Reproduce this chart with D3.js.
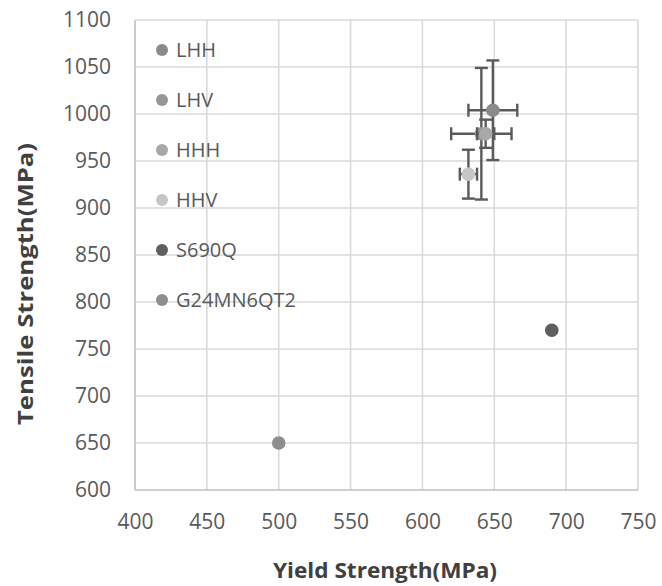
<!DOCTYPE html>
<html>
<head>
<meta charset="utf-8">
<script src="https://cdn.jsdelivr.net/npm/d3@7"></script>
<style>
  html, body { margin: 0; padding: 0; background: #ffffff; }
  svg { display: block; }
</style>
</head>
<body>
<svg id="chart" width="662" height="586"></svg>
<script>
// ---- data ----
const seriesNames   = ["LHH", "LHV", "HHH", "HHV", "S690Q", "G24MN6QT2"];
const yieldValues   = [649, 641, 644, 632, 690, 500];
const tensileValues = [1004, 979, 979, 936, 770, 650];
const yieldErrors   = [17, 21, 6, 6, 0, 0];
const tensileErrors = [53, 70, 15, 26, 0, 0];
const xTicks = [400, 450, 500, 550, 600, 650, 700, 750];
const yTicks = [600, 650, 700, 750, 800, 850, 900, 950, 1000, 1050, 1100];
const seriesColors = ["#8a8a8a", "#979797", "#a8a8a8", "#c6c6c6", "#5e5e5e", "#8e8e8e"];

// ---- layout ----
const W = 662, H = 586;
const margin = { left: 135, right: 24, top: 20, bottom: 96 };
const svg = d3.select("#chart");
const x = d3.scaleLinear().domain([400, 750]).range([margin.left, W - margin.right]);
const y = d3.scaleLinear().domain([600, 1100]).range([H - margin.bottom, margin.top]);
const FONT = "'Open Sans', 'Liberation Sans', sans-serif";

// grid
const grid = svg.append("g");
grid.selectAll("line.vx").data(xTicks).join("line")
  .attr("x1", d => x(d)).attr("x2", d => x(d))
  .attr("y1", y(1100)).attr("y2", y(600))
  .attr("stroke", d => d === 400 ? "#bfbfbf" : "#d9d9d9").attr("stroke-width", 1.6);
grid.selectAll("line.hy").data(yTicks).join("line")
  .attr("y1", d => y(d)).attr("y2", d => y(d))
  .attr("x1", x(400)).attr("x2", x(750))
  .attr("stroke", d => d === 600 ? "#bfbfbf" : "#d9d9d9").attr("stroke-width", 1.6);

// axes (labels only, via d3 axes)
const xAxis = svg.append("g")
  .attr("transform", `translate(0,${y(600)})`)
  .call(d3.axisBottom(x).tickValues(xTicks).tickSize(0).tickPadding(24).tickFormat(d3.format("d")));
xAxis.select(".domain").remove();
xAxis.selectAll("text").attr("font-family", FONT).attr("font-size", 21).attr("fill", "#595959");

const yAxis = svg.append("g")
  .attr("transform", `translate(${x(400)},0)`)
  .call(d3.axisLeft(y).tickValues(yTicks).tickSize(0).tickPadding(24).tickFormat(d3.format("d")));
yAxis.select(".domain").remove();
yAxis.selectAll("text").attr("font-family", FONT).attr("font-size", 21).attr("fill", "#595959");

// axis titles
svg.append("text")
  .attr("x", 385).attr("y", 578)
  .attr("text-anchor", "middle")
  .attr("font-family", FONT).attr("font-size", 22).attr("font-weight", "bold").attr("fill", "#404040")
  .attr("textLength", 224).attr("lengthAdjust", "spacingAndGlyphs")
  .text("Yield Strength(MPa)");
svg.append("text")
  .attr("transform", `translate(33,284) rotate(-90)`)
  .attr("text-anchor", "middle")
  .attr("font-family", FONT).attr("font-size", 22).attr("font-weight", "bold").attr("fill", "#404040")
  .attr("textLength", 282).attr("lengthAdjust", "spacingAndGlyphs")
  .text("Tensile Strength(MPa)");

// data marks
const pts = seriesNames.map((n, i) => ({
  name: n, xv: yieldValues[i], yv: tensileValues[i],
  xe: yieldErrors[i], ye: tensileErrors[i], color: seriesColors[i]
}));
const cap = 6.5;
const marks = svg.append("g");
pts.forEach(p => {
  const g = marks.append("g");
  const ebColor = "#5a5a5a";
  if (p.ye > 0) {
    g.append("line").attr("x1", x(p.xv)).attr("x2", x(p.xv))
      .attr("y1", y(p.yv - p.ye)).attr("y2", y(p.yv + p.ye))
      .attr("stroke", ebColor).attr("stroke-width", 2.4);
    [p.yv - p.ye, p.yv + p.ye].forEach(v => {
      g.append("line").attr("x1", x(p.xv) - cap).attr("x2", x(p.xv) + cap)
        .attr("y1", y(v)).attr("y2", y(v))
        .attr("stroke", ebColor).attr("stroke-width", 2.4);
    });
  }
  if (p.xe > 0) {
    g.append("line").attr("y1", y(p.yv)).attr("y2", y(p.yv))
      .attr("x1", x(p.xv - p.xe)).attr("x2", x(p.xv + p.xe))
      .attr("stroke", ebColor).attr("stroke-width", 2.4);
    [p.xv - p.xe, p.xv + p.xe].forEach(v => {
      g.append("line").attr("y1", y(p.yv) - cap).attr("y2", y(p.yv) + cap)
        .attr("x1", x(v)).attr("x2", x(v))
        .attr("stroke", ebColor).attr("stroke-width", 2.4);
    });
  }
  g.append("circle").attr("cx", x(p.xv)).attr("cy", y(p.yv)).attr("r", 6.8)
    .attr("fill", p.color);
});

// legend
const legend = svg.append("g");
pts.forEach((p, i) => {
  const ly = 50 + i * 50;
  legend.append("circle").attr("cx", 162).attr("cy", ly).attr("r", 6).attr("fill", p.color);
  legend.append("text").attr("x", 176).attr("y", ly).attr("dy", "0.35em")
    .attr("font-family", FONT).attr("font-size", 20).attr("fill", "#595959")
    .text(p.name);
});
</script>
</body>
</html>
